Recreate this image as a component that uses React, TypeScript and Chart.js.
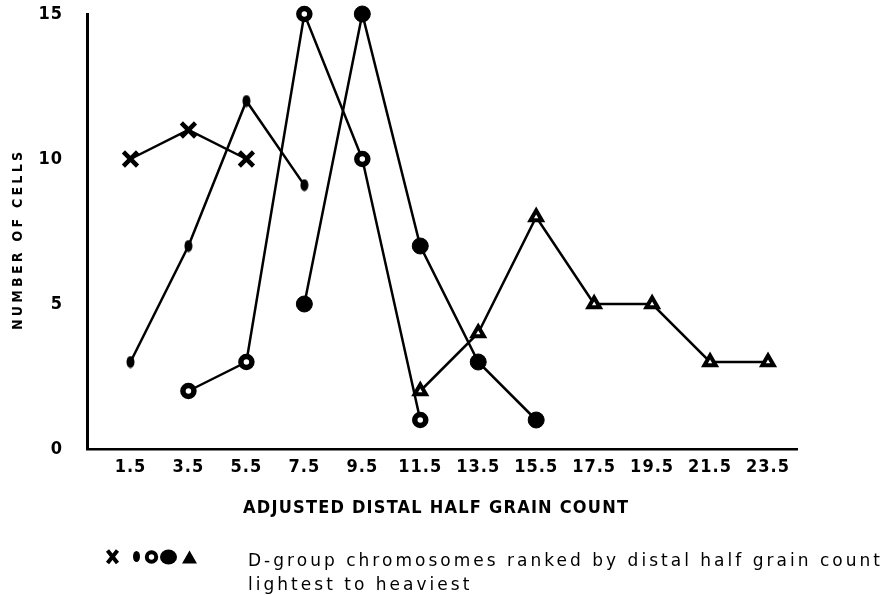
import React, { useEffect, useRef } from 'react';
import { Chart, registerables } from 'chart.js';

Chart.register(...registerables);

// ---- data ----
const xTickValues = [1.5, 3.5, 5.5, 7.5, 9.5, 11.5, 13.5, 15.5, 17.5, 19.5, 21.5, 23.5];
const yTickValues = [0, 5, 10, 15];

const crossX = [1.5, 3.5, 5.5];
const crossY = [10, 11, 10];
const dotX = [1.5, 3.5, 5.5, 7.5];
const dotY = [3, 7, 12, 9.1];
const ringX = [3.5, 5.5, 7.5, 9.5, 11.5];
const ringY = [2, 3, 15, 10, 1];
const discX = [7.5, 9.5, 11.5, 13.5, 15.5];
const discY = [5, 15, 7, 3, 1];
const triX = [11.5, 13.5, 15.5, 17.5, 19.5, 21.5, 23.5];
const triY = [2, 4, 8, 5, 5, 3, 3];

const yTitle = 'NUMBER OF CELLS';
const xTitle = 'ADJUSTED DISTAL HALF GRAIN COUNT';
const legendLines = ['D-group chromosomes ranked by distal half grain count', 'lightest to heaviest'];

const FONT = '"DejaVu Sans Condensed", "DejaVu Sans", sans-serif';
const LEGEND_FONT = '"DejaVu Sans", sans-serif';

const zip = (xs: number[], ys: number[]) => xs.map((x, i) => ({ x, y: ys[i] }));

function fitText(ctx: CanvasRenderingContext2D, text: string, x: number, y: number, width: number, center: boolean) {
  (ctx as any).letterSpacing = '0px';
  const w = ctx.measureText(text).width;
  const sp = (width - w) / Math.max(1, text.length - 1);
  (ctx as any).letterSpacing = sp + 'px';
  ctx.textAlign = 'left';
  ctx.fillText(text, center ? x - width / 2 : x, y);
  return sp;
}

const textPlugin = {
  id: 'textPlugin',
  beforeDraw(chart: any) {
    chart.ctx.letterSpacing = '1px';
  },
  afterDraw(chart: any) {
    const ctx: CanvasRenderingContext2D = chart.ctx;
    ctx.save();
    ctx.fillStyle = '#000';
    ctx.strokeStyle = '#000';

    // y-axis title
    ctx.save();
    ctx.translate(18, 241);
    ctx.rotate(-Math.PI / 2);
    ctx.font = `bold 14px ${FONT}`;
    ctx.textBaseline = 'middle';
    fitText(ctx, yTitle, 0, 0, 178, true);
    ctx.restore();

    // x-axis title
    ctx.font = `bold 18px ${FONT}`;
    ctx.textBaseline = 'alphabetic';
    fitText(ctx, xTitle, 435.5, 513, 385, true);

    // legend symbols
    (ctx as any).letterSpacing = '0px';
    ctx.lineWidth = 4;
    ctx.lineCap = 'butt';
    ctx.beginPath();
    ctx.moveTo(107.5, 550.5);
    ctx.lineTo(117.5, 563);
    ctx.moveTo(117.5, 550.5);
    ctx.lineTo(107.5, 563);
    ctx.stroke();
    ctx.beginPath();
    ctx.ellipse(136.5, 556.5, 3.5, 5.5, 0, 0, Math.PI * 2);
    ctx.fill();
    ctx.beginPath();
    ctx.lineWidth = 4;
    ctx.arc(151.5, 557, 4.7, 0, Math.PI * 2);
    ctx.stroke();
    ctx.beginPath();
    ctx.ellipse(168.5, 557, 8.5, 7.5, 0, 0, Math.PI * 2);
    ctx.fill();
    ctx.beginPath();
    ctx.moveTo(189.5, 550.5);
    ctx.lineTo(197, 563.5);
    ctx.lineTo(182, 563.5);
    ctx.closePath();
    ctx.fill();

    // legend text
    ctx.font = `17px ${LEGEND_FONT}`;
    ctx.textBaseline = 'alphabetic';
    const sp = fitText(ctx, legendLines[0], 248, 566, 632, false);
    (ctx as any).letterSpacing = sp + 'px';
    ctx.fillText(legendLines[1], 248, 590);

    ctx.restore();
    (ctx as any).letterSpacing = '0px';
  },
};

export default function App() {
  const ref = useRef<HTMLCanvasElement | null>(null);

  useEffect(() => {
    document.body.style.margin = '0';
    const canvas = ref.current!;

    const dot = document.createElement('canvas');
    dot.width = 9;
    dot.height = 13;
    const dctx = dot.getContext('2d')!;
    dctx.fillStyle = '#000';
    dctx.beginPath();
    dctx.ellipse(4.5, 6.5, 4, 6, 0, 0, Math.PI * 2);
    dctx.fill();

    const base = {
      borderColor: '#000',
      borderWidth: 2.5,
      pointBorderColor: '#000',
      showLine: true,
      tension: 0,
      clip: false as any,
      fill: false,
    };

    const chart = new Chart(canvas, {
      type: 'line',
      data: {
        datasets: [
          { ...base, data: zip(crossX, crossY), pointStyle: 'crossRot', pointRadius: 10, pointBorderWidth: 4.5, pointBackgroundColor: '#000' },
          { ...base, data: zip(dotX, dotY), pointStyle: dot as any, pointRadius: 6, pointBorderWidth: 0, pointBackgroundColor: '#000' },
          { ...base, data: zip(ringX, ringY), pointStyle: 'circle', pointRadius: 5.5, pointBorderWidth: 5.5, pointBackgroundColor: '#fff' },
          { ...base, data: zip(discX, discY), pointStyle: 'circle', pointRadius: 8, pointBorderWidth: 1, pointBackgroundColor: '#000' },
          { ...base, data: zip(triX, triY), pointStyle: 'triangle', pointRadius: 6.5, pointBorderWidth: 4, pointBackgroundColor: '#fff' },
        ] as any,
      },
      options: {
        animation: false,
        responsive: false,
        devicePixelRatio: 1,
        layout: { autoPadding: false, padding: { top: 14, right: 91, left: 0, bottom: 0 } },
        plugins: { legend: { display: false }, tooltip: { enabled: false }, title: { display: false } },
        scales: {
          x: {
            type: 'linear',
            min: 0,
            max: 24.5,
            grid: { display: false, drawTicks: false },
            border: { display: true, color: '#000', width: 2.5 },
            afterBuildTicks: (s: any) => {
              s.ticks = xTickValues.map((v) => ({ value: v }));
            },
            afterFit: (s: any) => {
              s.height = 146;
              s.paddingLeft = 0;
              s.paddingRight = 0;
            },
            ticks: {
              color: '#000',
              font: { family: FONT, size: 18, weight: 'bold' },
              padding: 8,
              autoSkip: false,
              maxRotation: 0,
              minRotation: 0,
              callback: (v: any) => String(v),
            },
          },
          y: {
            type: 'linear',
            min: 0,
            max: 15,
            grid: { display: false, drawTicks: false },
            border: { display: true, color: '#000', width: 3 },
            afterBuildTicks: (s: any) => {
              s.ticks = yTickValues.map((v) => ({ value: v }));
            },
            afterFit: (s: any) => {
              s.width = 87;
              s.paddingTop = 0;
              s.paddingBottom = 0;
            },
            ticks: {
              color: '#000',
              font: { family: FONT, size: 18, weight: 'bold' },
              padding: 24,
              callback: (v: any) => String(v),
            },
          },
        },
      },
      plugins: [textPlugin],
    });

    return () => chart.destroy();
  }, []);

  return (
    <div style={{ position: 'absolute', left: 0, top: 0, width: 888, height: 595, background: '#fff' }}>
      <canvas ref={ref} width={888} height={595} style={{ width: 888, height: 595, display: 'block' }} />
    </div>
  );
}
